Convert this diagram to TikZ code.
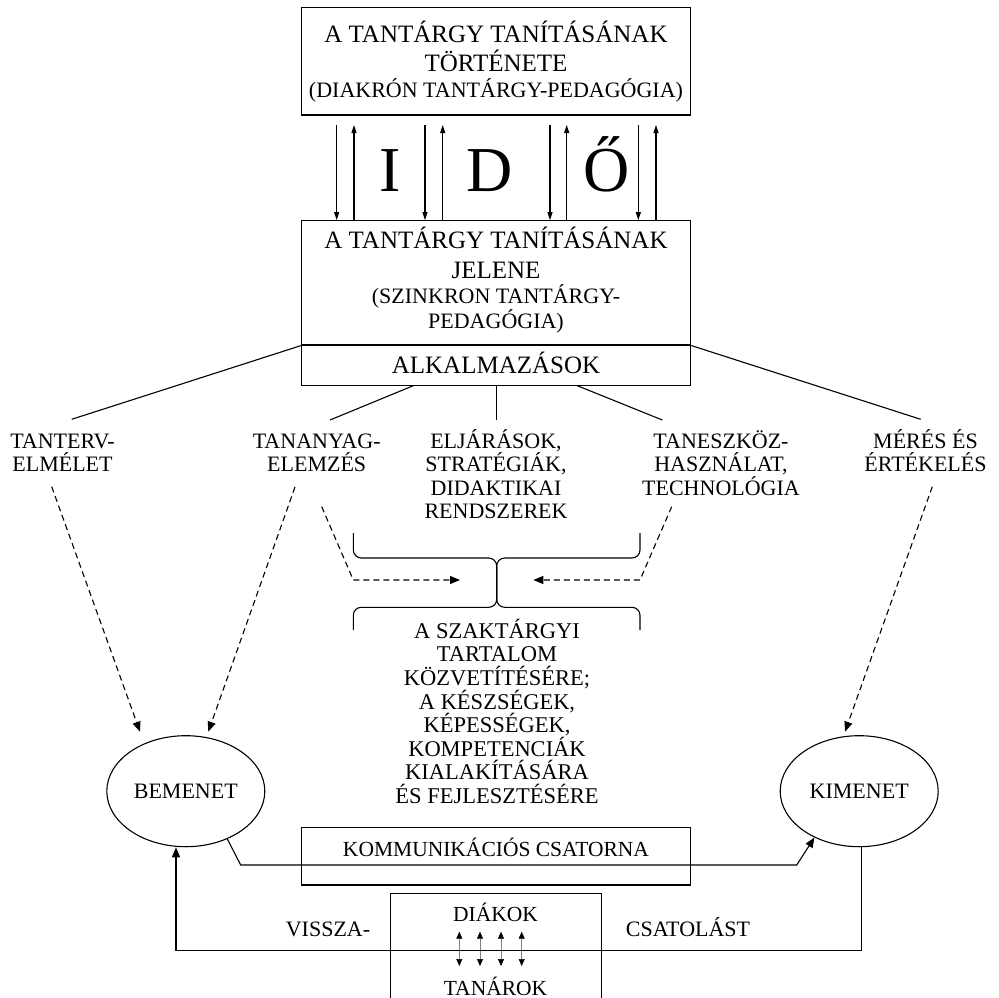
\documentclass[tikz,border=0pt]{standalone}
\usepackage{fontspec}
\setmainfont{Liberation Serif}
\usetikzlibrary{arrows.meta,shapes.geometric}
\newcommand\szBox{\fontsize{25}{28}\selectfont}
\newcommand\szPar{\fontsize{22}{25}\selectfont}
\newcommand\szLab{\fontsize{22}{24}\selectfont}
\newcommand\szMid{\fontsize{22.5}{24}\selectfont}
\newcommand\szSm{\fontsize{21.5}{24}\selectfont}
\newcommand\szBig{\fontsize{64}{70}\selectfont}
\begin{document}
\begin{tikzpicture}[x=1pt,y=-1pt,line width=1.1pt,
  box/.style={draw,rectangle,inner sep=0pt},
  oval/.style={draw,ellipse,inner sep=0pt,minimum width=158pt,minimum height=111pt,font=\szLab},
  txt/.style={anchor=base,inner sep=0pt},
  solidarr/.style={-{Triangle[length=8pt,width=5pt]}},
  bigarr/.style={-{Triangle[length=10pt,width=8pt]}},
  dasharr/.style={line width=1.1pt,dash pattern=on 6pt off 4pt,-{Triangle[length=10pt,width=8pt]}},
  fanline/.style={line width=1.1pt},
  smallarr/.style={line width=0.5pt,draw=gray,{Triangle[length=7pt,width=6pt,color=black]}-{Triangle[length=7pt,width=6pt,color=black]}}
]
\useasboundingbox (0,0) rectangle (999,998);

% --- top box: history
\node[box,minimum width=389pt,minimum height=107.7pt] (hist) at (496.2,61.15) {};
\node[txt,font=\szBox] (h1) at (496,43) {A TANTÁRGY TANÍTÁSÁNAK};
\node[txt,font=\szBox] (h2) at (496,71) {TÖRTÉNETE};
\node[txt,font=\szPar] (h3) at (496,97) {(DIAKRÓN TANTÁRGY-PEDAGÓGIA)};

% --- middle box: present
\node[box,minimum width=389pt,minimum height=124.3pt] (pres) at (496.2,282.85) {};
\node[box,minimum width=389pt,minimum height=40.7pt] (alk) at (496.2,365.35) {};
\node[txt,font=\szBox] (p1) at (496,248) {A TANTÁRGY TANÍTÁSÁNAK};
\node[txt,font=\szBox] (p2) at (496,278) {JELENE};
\node[txt,font=\szPar] (p3) at (496,303) {(SZINKRON TANTÁRGY-};
\node[txt,font=\szPar] (p4) at (496,328) {PEDAGÓGIA)};
\node[txt,font=\szBox] (alkt) at (496,373) {ALKALMAZÁSOK};

% --- IDŐ arrows
\foreach \x [count=\i] in {336.7,425,550,638.3}{
  \coordinate (d\i) at (\x,125);
  \draw[solidarr] (d\i) -- (d\i |- pres.north);
}
\foreach \x [count=\i] in {354,442.7,566.7,656}{
  \coordinate (u\i) at (\x,125);
  \draw[solidarr] (u\i |- pres.north) -- (u\i);
}
\node[txt,font=\szBig] (bigI) at (390,191.7) {I};
\node[txt,font=\szBig] (bigD) at (490,191.7) {D};
\node[txt,font=\szBig] (bigO) at (607,191.7) {Ő};

% --- fan lines
\coordinate (f1) at (71.7,419.3);
\coordinate (f2) at (330,420);
\coordinate (f3) at (496.7,420);
\coordinate (f4) at (662.3,420);
\coordinate (f5) at (920.7,419.3);
\coordinate (b2) at (413.3,385.7);
\coordinate (b4) at (577.3,385.7);
\draw[fanline] (pres.south west) -- (f1);
\draw[fanline] (pres.south east) -- (f5);
\draw[fanline] (b2) -- (f2);
\draw[fanline] (f3 |- alk.south) -- (f3);
\draw[fanline] (b4) -- (f4);

% --- labels
\node[txt,font=\szLab] (l11) at (62.5,448.3) {TANTERV-};
\node[txt,font=\szLab] (l12) at (62.5,471) {ELMÉLET};
\node[txt,font=\szLab] (l21) at (316.7,448.3) {TANANYAG-};
\node[txt,font=\szLab] (l22) at (316.7,471) {ELEMZÉS};
\node[txt,font=\szLab] (l31) at (496,448.3) {ELJÁRÁSOK,};
\node[txt,font=\szLab] (l32) at (496,471.7) {STRATÉGIÁK,};
\node[txt,font=\szLab] (l33) at (496,495) {DIDAKTIKAI};
\node[txt,font=\szLab] (l34) at (496,518.3) {RENDSZEREK};
\node[txt,font=\szLab] (l41) at (721,448.3) {TANESZKÖZ-};
\node[txt,font=\szLab] (l42) at (721,471.5) {HASZNÁLAT,};
\node[txt,font=\szLab] (l43) at (721,495.7) {TECHNOLÓGIA};
\node[txt,font=\szLab] (l51) at (925.5,448.3) {MÉRÉS ÉS};
\node[txt,font=\szLab] (l52) at (925.5,471) {ÉRTÉKELÉS};

% --- braces
\draw[line width=1.1pt,rounded corners=8pt] (353.3,533) -- (353.3,558) -- (496.7,558) -- (496.7,607.3) -- (353.3,607.3) -- (353.3,630);
\draw[line width=1.1pt,rounded corners=8pt] (640,533) -- (640,558) -- (496.7,558) -- (496.7,607.3) -- (640,607.3) -- (640,630);

% --- middle text
\foreach \t [count=\i] in {A SZAKTÁRGYI,TARTALOM,KÖZVETÍTÉSÉRE;,A KÉSZSÉGEK{,},KÉPESSÉGEK{,},KOMPETENCIÁK,KIALAKÍTÁSÁRA,ÉS FEJLESZTÉSÉRE}{
  \node[txt,font=\szMid] (m\i) at (497,{638.3+23.6*(\i-1)}) {\t};
}

% --- ellipses
\node[oval] (bem) at (185.8,791.2) {BEMENET};
\node[oval] (kim) at (859.2,791.2) {KIMENET};

% --- dashed arrows
\coordinate (s1) at (51.7,486.7);  \coordinate (e1) at (140,731.7);
\coordinate (s2) at (295,487);     \coordinate (e2) at (208.3,731.7);
\coordinate (s3) at (321.7,506.7); \coordinate (k3) at (353.3,580); \coordinate (e3) at (460,580);
\coordinate (s4) at (671.7,506.7); \coordinate (k4) at (640,580);   \coordinate (e4) at (533.3,580);
\coordinate (s5) at (932.3,486.7); \coordinate (e5) at (845,731.7);
\draw[dasharr] (s1) -- (e1);
\draw[dasharr] (s2) -- (e2);
\draw[dasharr] (s3) -- (k3) -- (e3);
\draw[dasharr] (s4) -- (k4) -- (e4);
\draw[dasharr] (s5) -- (e5);

% --- communication channel
\node[box,minimum width=389pt,minimum height=57.3pt] (komm) at (496.2,856.35) {};
\node[txt,font=\szSm] (kommt) at (496,856.7) {KOMMUNIKÁCIÓS CSATORNA};
\coordinate (c1) at (240.7,865);
\coordinate (c2) at (796.7,865);
\draw[bigarr] (bem.-49) -- (c1) -- (c2) -- (kim.-134);

% --- students / teachers box
\node[box,minimum width=211pt,minimum height=120pt] (dt) at (496.2,953.3) {};
\node[txt,font=\szSm] (dia) at (495.5,921.7) {DIÁKOK};
\node[txt,font=\szSm] (tan) at (495.5,995) {TANÁROK};
\foreach \x [count=\i] in {459.3,480,501,521.7}{
  \coordinate (sa\i) at (\x,931.7);
  \coordinate (sb\i) at (\x,966);
  \draw[smallarr] (sa\i) -- (sb\i);
}

% --- feedback
\coordinate (fbR) at (861.7,950.7);
\coordinate (fbL) at (176,950.7);
\draw[bigarr] (fbR |- kim.south) -- (fbR) -- (fbL) -- (fbL |- bem.south);
\node[txt,font=\szLab] (vissza) at (328,936.7) {VISSZA-};
\node[txt,font=\szLab] (csat) at (688,936.7) {CSATOLÁST};
\end{tikzpicture}
\end{document}
